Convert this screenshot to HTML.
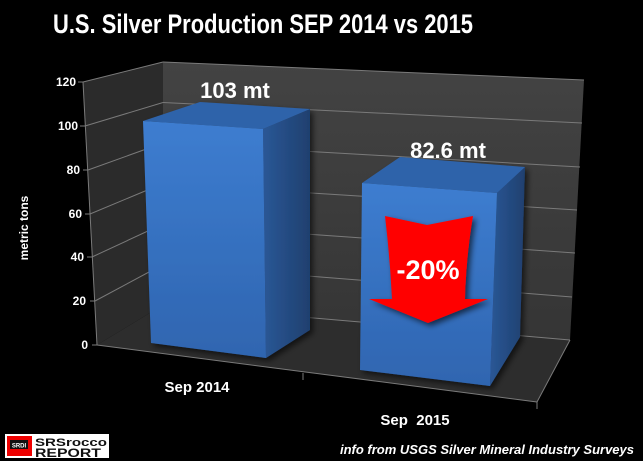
<!DOCTYPE html>
<html><head><meta charset="utf-8"><style>
html,body{margin:0;padding:0;background:#000;width:643px;height:461px;overflow:hidden}
svg{display:block}
text{font-family:"Liberation Sans",sans-serif;font-weight:bold;fill:#fff}
</style></head><body>
<svg width="643" height="461" viewBox="0 0 643 461" xmlns="http://www.w3.org/2000/svg">
<defs>
<linearGradient id="wall" x1="0" y1="0" x2="0" y2="1"><stop offset="0" stop-color="#434343"/><stop offset="1" stop-color="#353535"/></linearGradient>
<linearGradient id="front" x1="0" y1="0" x2="0" y2="1"><stop offset="0" stop-color="#3d7dd0"/><stop offset="1" stop-color="#2f65b0"/></linearGradient>
<linearGradient id="side" x1="0" y1="0" x2="1" y2="0"><stop offset="0" stop-color="#2a5796"/><stop offset="1" stop-color="#1f406f"/></linearGradient>
<filter id="sh" x="-20%" y="-20%" width="140%" height="140%"><feDropShadow dx="3" dy="3" stdDeviation="3" flood-color="#000" flood-opacity="0.6"/></filter>
</defs>
<text x="263" y="33" font-size="27" text-anchor="middle" textLength="420" lengthAdjust="spacingAndGlyphs">U.S. Silver Production SEP 2014 vs 2015</text>
<polygon points="163,62 584,80 570,340 163,305" fill="url(#wall)"/>
<polygon points="83,82 163,62 163,305 97,345" fill="#2b2b2b"/>
<polygon points="97,345 163,305 570,340 537,402" fill="#2d2d2d"/>
<g stroke="#7a7a7a" stroke-width="1" fill="none">
<line x1="163" y1="62" x2="584" y2="80"/>
<line x1="163" y1="102.5" x2="582" y2="123"/>
<line x1="163" y1="143" x2="580" y2="167"/>
<line x1="163" y1="183.5" x2="577" y2="210"/>
<line x1="163" y1="224" x2="575" y2="253"/>
<line x1="163" y1="264.5" x2="572" y2="297"/>
<line x1="83" y1="82" x2="163" y2="62"/>
<line x1="85" y1="126" x2="163" y2="102.5"/>
<line x1="88" y1="170" x2="163" y2="143"/>
<line x1="90" y1="214" x2="163" y2="183.5"/>
<line x1="92" y1="257" x2="163" y2="224"/>
<line x1="95" y1="301" x2="163" y2="264.5"/>
<line x1="83" y1="82" x2="97" y2="345"/>
<line x1="97" y1="345" x2="537" y2="402"/>
<line x1="537" y1="402" x2="570" y2="340"/>
<line x1="163" y1="305" x2="570" y2="340"/>
<line x1="78" y1="82" x2="83" y2="82"/><line x1="80" y1="126" x2="85" y2="126"/><line x1="83" y1="170" x2="88" y2="170"/>
<line x1="85" y1="214" x2="90" y2="214"/><line x1="87" y1="257" x2="92" y2="257"/><line x1="90" y1="301" x2="95" y2="301"/><line x1="92" y1="345" x2="97" y2="345"/>
<line x1="303" y1="373" x2="303" y2="380"/><line x1="537" y1="402" x2="537" y2="409"/>
</g>
<g font-size="12" text-anchor="end">
<text x="76" y="86">120</text><text x="78" y="130">100</text><text x="80" y="174">80</text>
<text x="82" y="218">60</text><text x="84" y="261">40</text><text x="86" y="305">20</text><text x="88" y="349">0</text>
</g>
<text transform="translate(28,228) rotate(-90)" font-size="12" text-anchor="middle">metric tons</text>
<g filter="url(#sh)">
<polygon points="263,129 310,109 310,330 266,358" fill="url(#side)"/>
<polygon points="143,121 200,102 310,109 263,129" fill="#2f63aa"/>
<polygon points="143,121 263,129 266,358 151,343" fill="url(#front)"/>
</g>
<g filter="url(#sh)">
<polygon points="497,193 525,167 520,337 490,386" fill="url(#side)"/>
<polygon points="362,183 400,157 525,167 497,193" fill="#2f63aa"/>
<polygon points="362,183 497,193 490,386 360,370" fill="url(#front)"/>
</g>
<path filter="url(#sh)" d="M385,216 L427,225 L473,216 Q466,258 465,299 L488,299 L428,323 L369,299 L392,299 Q390,258 385,216 Z" fill="#ff0000"/>
<text x="428" y="279" font-size="27" text-anchor="middle">-20%</text>
<text x="235" y="98" font-size="22" text-anchor="middle">103 mt</text>
<text x="448" y="158" font-size="22" text-anchor="middle">82.6 mt</text>
<text x="197" y="392" font-size="15" text-anchor="middle">Sep  2014</text>
<text x="415" y="425" font-size="15" text-anchor="middle" xml:space="preserve">Sep  2015</text>
<text x="634" y="454" font-size="13" font-style="italic" text-anchor="end">info from USGS Silver Mineral Industry Surveys</text>
<rect x="5" y="434" width="104" height="24" fill="#fff"/>
<rect x="7" y="436" width="25" height="20" fill="#e00"/>
<rect x="10" y="440" width="18" height="9" fill="#111"/>
<text x="19" y="447.5" font-size="6" text-anchor="middle" fill="#ff0">SRDI</text>
<text x="35" y="446" font-size="11" style="fill:#111" textLength="72" lengthAdjust="spacingAndGlyphs">SRSrocco</text>
<text x="35" y="457" font-size="12" style="fill:#111" textLength="66" lengthAdjust="spacingAndGlyphs">REPORT</text>
</svg>
</body></html>
